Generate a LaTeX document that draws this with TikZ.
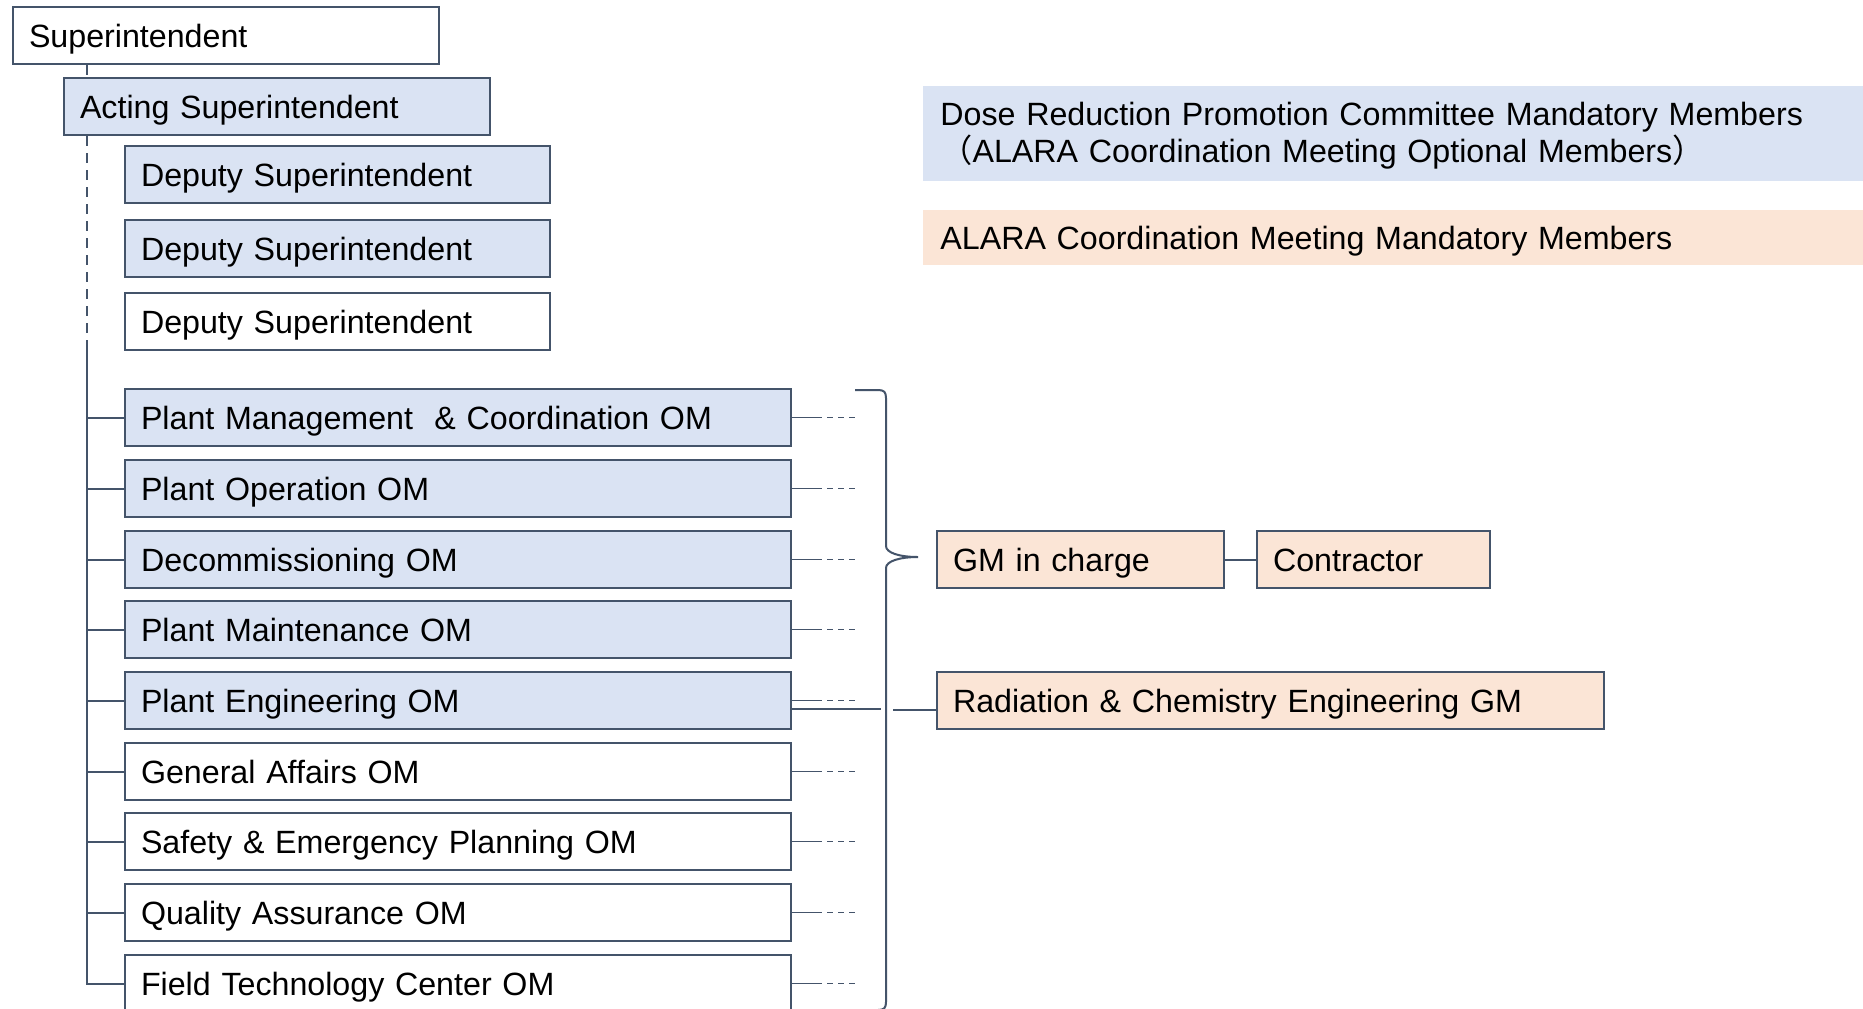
\documentclass[tikz,border=0pt]{standalone}
\usepackage{fontspec}
\setmainfont{Liberation Sans}
\newfontfamily\cjk{Noto Sans CJK JP}
\definecolor{lineC}{HTML}{44546A}
\definecolor{blueF}{HTML}{DAE3F3}
\definecolor{orangeF}{HTML}{FBE5D6}
\newcommand{\orgfont}{\fontsize{16.1pt}{18.5pt}\selectfont}
\begin{document}
\begin{tikzpicture}[x=0.5pt,y=-0.5pt,
  orgbox/.style={draw=lineC, line width=1pt, anchor=north west, minimum height=28.5pt,
    inner xsep=8pt, inner ysep=0pt, align=left, text width=#1, font=\orgfont,
    text height=13.6pt, text depth=1.6pt},
  bluebox/.style={fill=blueF},
  orangebox/.style={fill=orangeF},
  legend/.style={anchor=north west, minimum width=470pt, inner xsep=8.5pt, inner ysep=0pt,
    align=left, text width=453pt, font=\orgfont},
  conn/.style={draw=lineC, line width=1pt},
  dashconn/.style={draw=lineC, line width=1pt, dash pattern=on 5pt off 3.5pt},
  smalldash/.style={draw=lineC, line width=0.9pt, dash pattern=on 3pt off 2.5pt}]
\useasboundingbox (0,0) rectangle (1863,1008);
\clip (0,0) rectangle (1863,1008);
\fill[white] (0,0) rectangle (1863,1008);

% legend
\node[legend, bluebox, minimum height=47.5pt] (legA) at (923,86)
  {\rule{0pt}{13pt}Dose Reduction Promotion Committee Mandatory Members\\{\cjk （}ALARA Coordination Meeting Optional Members{\cjk ）}};
\node[legend, orangebox, minimum height=27.5pt, text height=13.6pt, text depth=1.6pt] (legB) at (923,210)
  {ALARA Coordination Meeting Mandatory Members};

% trunk reference points
\coordinate (tk) at (87,345);
\coordinate (tkx) at (87,0);

% top boxes
\node[orgbox=197pt] (sup) at (12,6) {Superintendent};
\node[orgbox=197pt, bluebox] (acting) at (63,77) {Acting Superintendent};
\node[orgbox=196.5pt, bluebox] (dep1) at (124,145) {Deputy Superintendent};
\node[orgbox=196.5pt, bluebox] (dep2) at (124,219) {Deputy Superintendent};
\node[orgbox=196.5pt] (dep3) at (124,292) {Deputy Superintendent};

% OM boxes
\node[orgbox=317pt, bluebox] (pmc) at (124,388) {Plant Management~ \& Coordination OM};
\node[orgbox=317pt, bluebox] (po) at (124,459) {Plant Operation OM};
\node[orgbox=317pt, bluebox] (dec) at (124,530) {Decommissioning OM};
\node[orgbox=317pt, bluebox] (pm) at (124,600) {Plant Maintenance OM};
\node[orgbox=317pt, bluebox] (pe) at (124,671) {Plant Engineering OM};
\node[orgbox=317pt] (ga) at (124,742) {General Affairs OM};
\node[orgbox=317pt] (se) at (124,812) {Safety \& Emergency Planning OM};
\node[orgbox=317pt] (qa) at (124,883) {Quality Assurance OM};
\node[orgbox=317pt] (ftc) at (124,954) {Field Technology Center OM};

% right boxes
\node[orgbox=127.5pt, orangebox] (gm) at (936,530) {GM in charge};
\node[orgbox=100.5pt, orangebox] (con) at (1256,530) {Contractor};
\node[orgbox=317.5pt, orangebox] (rad) at (936,671) {Radiation \& Chemistry Engineering GM};

% vertical trunk
\draw[dashconn] (sup.south -| tkx) -- (acting.north -| tkx);
\draw[dashconn] (acting.south -| tkx) -- (tk);
\draw[conn] (tk) -- (ftc.west -| tkx) -- (ftc.west);
\foreach \n in {pmc,po,dec,pm,pe,ga,se,qa} {
  \draw[conn] (\n.west -| tkx) -- (\n.west);
}

% right stubs
\foreach \n in {pmc,po,dec,pm,pe,ga,se,qa,ftc} {
  \draw[conn, line width=0.9pt] (\n.east) -- ([xshift=12pt]\n.east);
  \draw[smalldash] ([xshift=12pt]\n.east) -- ([xshift=32pt]\n.east);
}
\draw[conn] ([yshift=-4pt]pe.east) -- ([xshift=44.5pt,yshift=-4pt]pe.east);
\draw[conn] ([xshift=-21.5pt,yshift=-4.5pt]rad.west) -- ([yshift=-4.5pt]rad.west);
\draw[conn] (gm.east) -- (con.west);

% brace
\coordinate (btip) at (918,557);
\draw[lineC, line width=1pt]
  (855,390) -- (878,390) .. controls (884,390) and (886,392) .. (886,398)
  -- (886,546) .. controls (886,553) and (900,557) .. (btip)
  .. controls (900,557) and (886,561) .. (886,568)
  -- (886,1002) .. controls (886,1008) and (884,1010) .. (878,1010) -- (855,1010);
\end{tikzpicture}
\end{document}
